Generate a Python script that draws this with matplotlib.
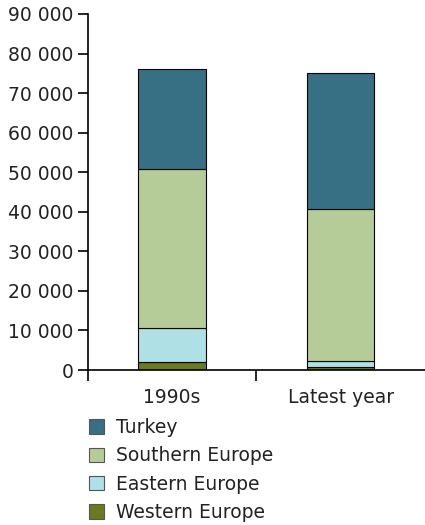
import matplotlib.pyplot as plt
import numpy as np
from matplotlib.patches import Patch

categories = ["1990s", "Latest year"]
series_names = ["Western Europe", "Eastern Europe", "Southern Europe", "Turkey"]
western = [2000, 800]
eastern = [8500, 1500]
southern = [40400, 38450]
turkey = [25100, 34250]
colors = ["#6a7a20", "#aee0e6", "#b5cc98", "#376f84"]

plt.rcParams['font.family'] = ['DejaVu Sans']

fig = plt.figure(figsize=(4.25, 5.25), dpi=100)
ax = fig.add_axes([87.5 / 425, 155 / 525, 1 - 87.5 / 425, 356 / 525])

x = np.arange(len(categories))
bottom = np.zeros(len(categories))
for name, vals, c in zip(series_names, [western, eastern, southern, turkey], colors):
    ax.bar(x, vals, width=0.4, bottom=bottom, color=c, edgecolor="black",
           linewidth=0.8, label=name)
    bottom += np.array(vals)

ax.set_xlim(-0.5, 1.5)
ax.set_ylim(0, 90000)
ax.set_yticks(np.arange(0, 90001, 10000))
ax.set_yticklabels([f"{v:,}".replace(",", " ") for v in range(0, 90001, 10000)],
                   fontsize=13.5, color="#222222")
ax.set_xticks([-0.5, 0.5])
ax.set_xticklabels([])
ax.set_xticks(x, minor=True)
ax.set_xticklabels(categories, minor=True, fontsize=13.5, color="#222222")
ax.tick_params(axis="x", which="minor", length=0, pad=13)
ax.tick_params(axis="x", which="major", length=8, width=1.2, direction="out")
ax.tick_params(axis="y", length=7, width=1.2, direction="out", pad=3)
for s in ["top", "right"]:
    ax.spines[s].set_visible(False)
ax.spines["left"].set_linewidth(1.2)
ax.spines["bottom"].set_linewidth(1.2)

handles = [Patch(facecolor=c, edgecolor="#555555", linewidth=0.8, label=n)
           for n, c in zip(series_names[::-1], colors[::-1])]
fig.legend(handles=handles, loc="upper left", bbox_to_anchor=(72 / 425, 1 - 401 / 525),
           frameon=False, fontsize=13.5, handlelength=0.8, handleheight=0.8,
           handletextpad=0.65, labelspacing=0.5, labelcolor="#222222")

fig.savefig("out.png", dpi=100)
